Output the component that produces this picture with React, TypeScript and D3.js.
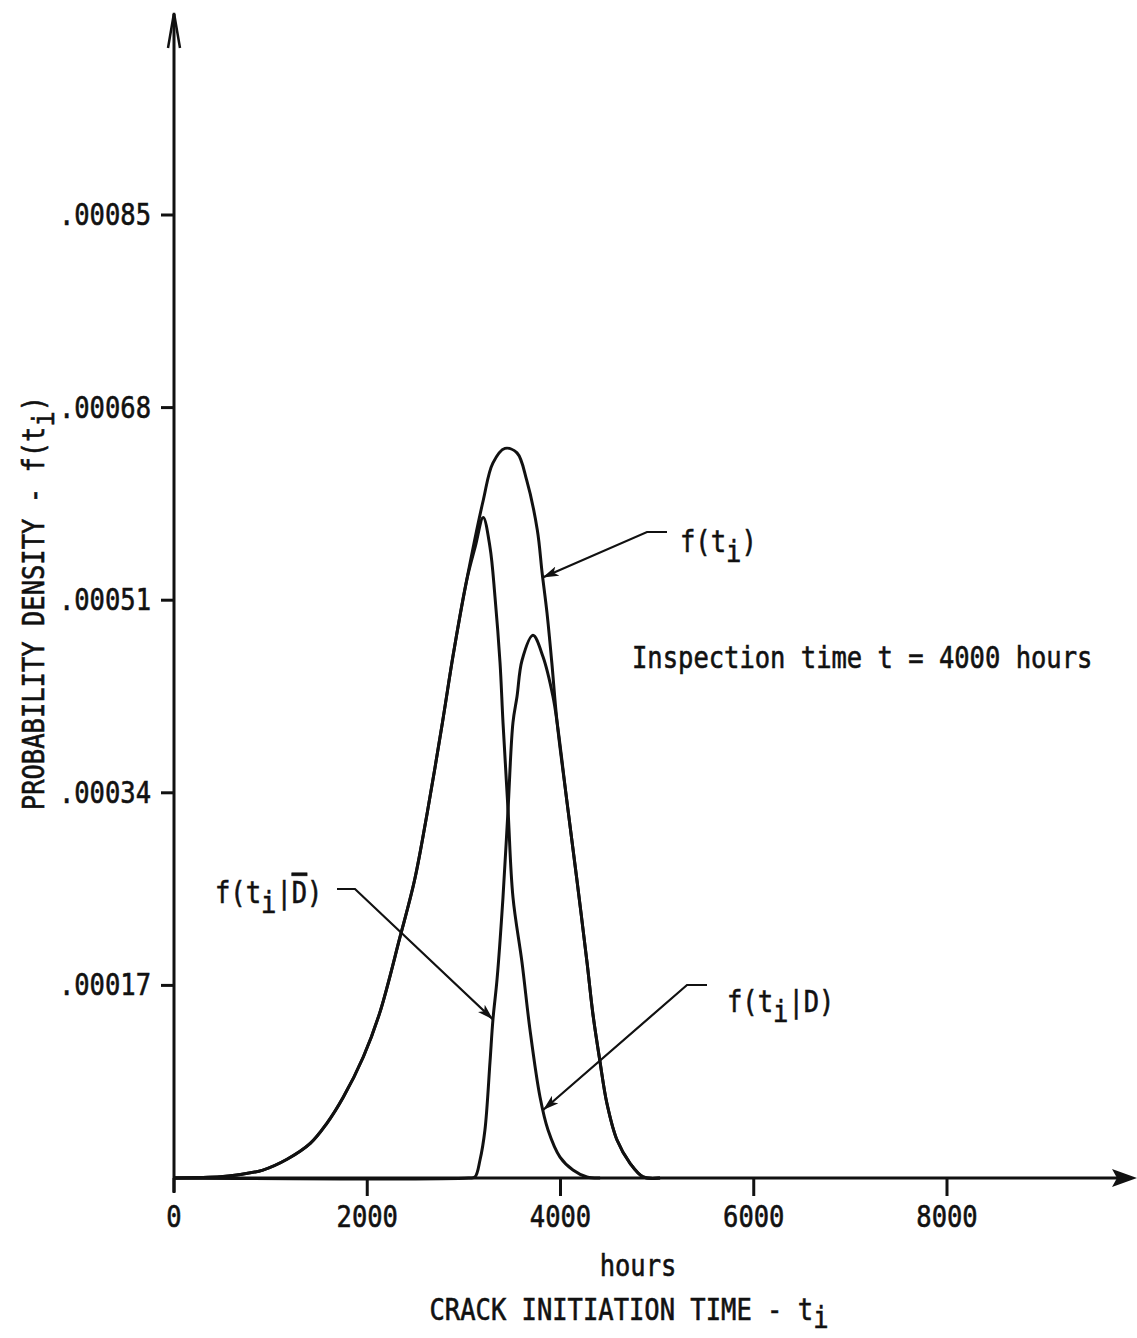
import React from 'react';
import * as d3 from 'd3';

// f(t_i) : prior density of crack initiation time
const fTimes = [0, 480, 650, 920, 1170, 1410, 1580, 1750, 1960, 2130, 2340, 2490, 2620, 2780, 2890, 3030, 3200, 3300, 3425, 3550, 3650, 3760, 3810, 3860, 3910, 3965, 4070, 4170, 4275, 4335, 4410, 4480, 4585, 4720, 4855, 5030];
const fValues = [0, 0.000001, 0.0000026, 0.000007, 0.0000165, 0.0000305, 0.000048, 0.000071, 0.000107, 0.000146, 0.000213, 0.000263, 0.000322, 0.000403, 0.000462, 0.000528, 0.000598, 0.000631, 0.000644, 0.00064, 0.000616, 0.000572, 0.000534, 0.000499, 0.000455, 0.000402, 0.00033, 0.000263, 0.00019, 0.000145, 0.000102, 0.000066, 0.0000335, 0.000013, 0.000001, 0];

// f(t_i | D) : detected
const fDTimes = [0, 480, 650, 920, 1170, 1410, 1580, 1750, 1960, 2130, 2340, 2490, 2620, 2780, 2890, 3030, 3120, 3200, 3270, 3322, 3374, 3405, 3457, 3508, 3602, 3684, 3788, 3871, 3995, 4129, 4274, 4410];
const fDValues = [0, 0.000001, 0.0000026, 0.000007, 0.0000165, 0.0000305, 0.000048, 0.000071, 0.000107, 0.000146, 0.000213, 0.000263, 0.000322, 0.000403, 0.000462, 0.000528, 0.000558, 0.000583, 0.000557, 0.000513, 0.000455, 0.000402, 0.000325, 0.000248, 0.00019, 0.000131, 0.0000715, 0.0000424, 0.0000185, 0.0000071, 0.0000009, 0];

// f(t_i | D-bar) : not detected
const fDbarTimes = [0, 3050, 3115, 3167, 3218, 3270, 3301, 3343, 3405, 3457, 3508, 3550, 3602, 3715, 3819, 3922, 3965, 4070, 4170, 4275, 4335, 4410, 4480, 4585, 4720, 4855, 5030];
const fDbarValues = [0, 0, 0.0000009, 0.0000159, 0.0000424, 0.000102, 0.00014, 0.000175, 0.000248, 0.000325, 0.000402, 0.000425, 0.000457, 0.000479, 0.00046, 0.000425, 0.000402, 0.00033, 0.000263, 0.00019, 0.000145, 0.000102, 0.000066, 0.0000335, 0.000013, 0.000001, 0];

const xTicks = [0, 2000, 4000, 6000, 8000];
const xTickLabels = ['0', '2000', '4000', '6000', '8000'];
const yTicks = [0.00017, 0.00034, 0.00051, 0.00068, 0.00085];
const yTickLabels = ['.00017', '.00034', '.00051', '.00068', '.00085'];

const FONT = '"DejaVu Sans Mono", monospace';
const INK = '#111';
const SX = 0.85; // horizontal condensing of the typewriter-like lettering

type TProps = {
  x: number;
  y: number;
  anchor?: 'start' | 'middle' | 'end';
  rotate?: number;
  children: React.ReactNode;
};

function T({ x, y, anchor = 'start', rotate = 0, children }: TProps) {
  return (
    <text
      transform={`translate(${x},${y}) rotate(${rotate}) scale(${SX},1)`}
      textAnchor={anchor}
      style={{ fontFamily: FONT, fontSize: 30, fill: INK, stroke: INK, strokeWidth: 0.6 }}
    >
      {children}
    </text>
  );
}

export default function App() {
  const W = 1137;
  const H = 1338;
  const x = d3.scaleLinear().domain([0, 8000]).range([174, 947]);
  const y = d3.scaleLinear().domain([0, 0.00085]).range([1178, 215]);
  const x0 = x(0);
  const y0 = y(0);

  const zip = (ts: number[], vs: number[]) => ts.map((t, i) => [t, vs[i]] as [number, number]);
  const line = d3
    .line<[number, number]>()
    .x((d) => x(d[0]))
    .y((d) => Math.min(y0, y(d[1])))
    .curve(d3.curveCatmullRom.alpha(0.5));

  const series = [zip(fTimes, fValues), zip(fDTimes, fDValues), zip(fDbarTimes, fDbarValues)];

  // leader tips anchored on the curves
  const tipF: [number, number] = [x(3815), y(0.00053)];
  const tipDbar: [number, number] = [x(3301), y(0.00014)];
  const tipD: [number, number] = [x(3820), y(0.00006)];

  return (
    <svg
      width={W}
      height={H}
      viewBox={`0 0 ${W} ${H}`}
      style={{ position: 'absolute', left: 0, top: 0, background: '#fff' }}
    >
      <defs>
        <marker
          id="arr"
          viewBox="0 0 16 10"
          refX={16}
          refY={5}
          markerWidth={16}
          markerHeight={10}
          markerUnits="userSpaceOnUse"
          orient="auto"
        >
          <path d="M0,0 L16,5 L0,10 L4,5 Z" fill={INK} />
        </marker>
      </defs>
      <rect x={0} y={0} width={W} height={H} fill="#fff" />

      {/* Y axis */}
      <line x1={x0} y1={y0 + 14} x2={x0} y2={14} stroke={INK} strokeWidth={3} />
      <polyline points={`${x0 - 6},48 ${x0},13 ${x0 + 6},48`} fill="none" stroke={INK} strokeWidth={2.5} />
      {yTicks.map((v, i) => (
        <g key={'yt' + i}>
          <line x1={x0 - 13} x2={x0} y1={y(v)} y2={y(v)} stroke={INK} strokeWidth={3} />
          <T x={151} y={y(v) + 10} anchor="end">
            {yTickLabels[i]}
          </T>
        </g>
      ))}

      {/* X axis */}
      <line x1={x0} y1={y0} x2={1120} y2={y0} stroke={INK} strokeWidth={3.2} />
      <path d={`M1112,${y0 - 9} L1137,${y0} L1112,${y0 + 9} L1117,${y0} Z`} fill={INK} />
      {xTicks.map((t, i) => (
        <g key={'xt' + i}>
          <line x1={x(t)} x2={x(t)} y1={y0} y2={y0 + (t === 0 ? 15 : 18)} stroke={INK} strokeWidth={3} />
          <T x={x(t)} y={1227} anchor="middle">
            {xTickLabels[i]}
          </T>
        </g>
      ))}

      {/* Curves */}
      {series.map((s, i) => (
        <path key={'s' + i} d={line(s) || ''} fill="none" stroke={INK} strokeWidth={3} strokeLinejoin="round" />
      ))}

      {/* Leader for f(t_i) */}
      <polyline points={`667,532 647,532 ${tipF[0]},${tipF[1]}`} fill="none" stroke={INK} strokeWidth={2.2} markerEnd="url(#arr)" />
      <T x={680} y={552}>
        f(t<tspan dy={10}>i</tspan><tspan dy={-10}>)</tspan>
      </T>

      <T x={632} y={668}>Inspection time t = 4000 hours</T>

      {/* Leader for f(t_i | D-bar) */}
      <polyline points={`337,889 355,889 ${tipDbar[0]},${tipDbar[1]}`} fill="none" stroke={INK} strokeWidth={2.2} markerEnd="url(#arr)" />
      <T x={215} y={903}>
        f(t<tspan dy={10}>i</tspan>
        <tspan dy={-10}>|</tspan>
        <tspan style={{ textDecoration: 'overline' }}>D</tspan>)
      </T>

      {/* Leader for f(t_i | D) */}
      <polyline points={`707,985 687,985 ${tipD[0]},${tipD[1]}`} fill="none" stroke={INK} strokeWidth={2.2} markerEnd="url(#arr)" />
      <T x={727} y={1012}>
        f(t<tspan dy={10}>i</tspan><tspan dy={-10}>|D)</tspan>
      </T>

      {/* Axis titles */}
      <T x={638} y={1276} anchor="middle">
        hours
      </T>
      <T x={629} y={1320} anchor="middle">
        CRACK INITIATION TIME - t<tspan dy={8}>i</tspan>
      </T>
      <T x={44} y={603} anchor="middle" rotate={-90}>
        PROBABILITY DENSITY - f(t<tspan dy={10}>i</tspan><tspan dy={-10}>)</tspan>
      </T>
    </svg>
  );
}
